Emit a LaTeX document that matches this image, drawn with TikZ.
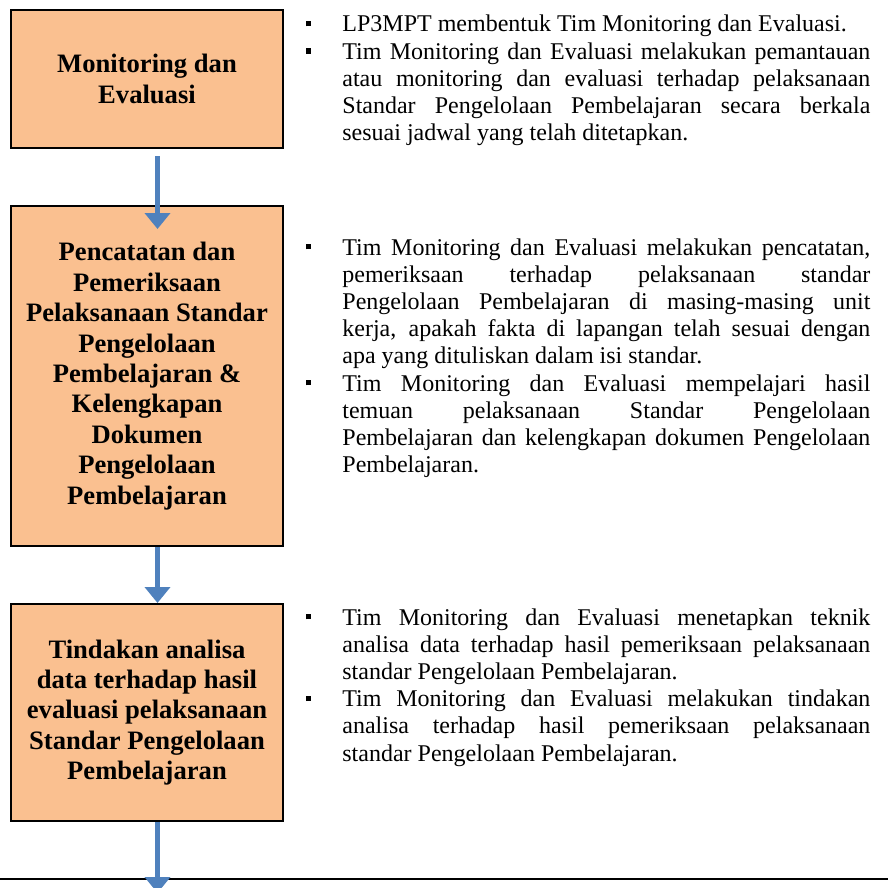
\documentclass[tikz,border=0pt]{standalone}
\usepackage{fontspec}
\setmainfont{Liberation Serif}
\usetikzlibrary{arrows.meta,calc}
\definecolor{boxfill}{HTML}{FAC090}
\definecolor{arrowblue}{HTML}{4F81BD}
\tolerance=10000\relax
\hbadness=10000\relax
\hyphenpenalty=10000\relax
\newcommand{\sqbul}{\noindent\llap{\rule[2.8pt]{2.7pt}{2.7pt}\hspace{15.7pt}}}

\begin{document}
\begin{tikzpicture}[x=0.5pt,y=-0.5pt,
    stagebox/.style={draw=black,line width=1pt,fill=boxfill,minimum width=136pt,inner sep=0pt,align=center,font=\fontsize{13.3}{15.2}\selectfont\bfseries},
    flowarrow/.style={draw=arrowblue,line width=2.5pt,-{Triangle[width=12.5pt,length=8pt]}},
    notes/.style={anchor=base west,inner sep=0pt,text width=264pt,align=justify,font=\fontsize{12}{13.6}\selectfont}]
    \useasboundingbox (0,0) rectangle (888,888);

    \node[stagebox,minimum height=69pt] (monev) at (147,79) {Monitoring dan\\Evaluasi};
    \node[stagebox,minimum height=170pt] (pencatatan) at (147,376) {Pencatatan dan\\Pemeriksaan\\Pelaksanaan Standar\\Pengelolaan\\Pembelajaran \&\\Kelengkapan\\Dokumen\\Pengelolaan\\Pembelajaran};
    \node[stagebox,minimum height=108.5pt] (tindakan) at (147,712.5) {Tindakan analisa\\data terhadap hasil\\evaluasi pelaksanaan\\Standar Pengelolaan\\Pembelajaran};

    \node[notes] (monevnote) at (342,32) {\sqbul LP3MPT membentuk Tim Monitoring dan Evaluasi.\par
        \sqbul Tim Monitoring dan Evaluasi melakukan pemantauan\linebreak atau monitoring dan evaluasi terhadap pelaksanaan\linebreak Standar Pengelolaan Pembelajaran secara berkala\linebreak sesuai jadwal yang telah ditetapkan.};
    \node[notes] (pencatatannote) at (342,255) {\sqbul Tim Monitoring dan Evaluasi melakukan pencatatan,\linebreak pemeriksaan terhadap pelaksanaan standar\linebreak Pengelolaan Pembelajaran di masing-masing unit\linebreak kerja, apakah fakta di lapangan telah sesuai dengan\linebreak apa yang dituliskan dalam isi standar.\par
        \sqbul Tim Monitoring dan Evaluasi mempelajari hasil\linebreak temuan pelaksanaan Standar Pengelolaan\linebreak Pembelajaran dan kelengkapan dokumen Pengelolaan\linebreak Pembelajaran.};
    \node[notes] (tindakannote) at (342,625) {\sqbul Tim Monitoring dan Evaluasi menetapkan teknik\linebreak analisa data terhadap hasil pemeriksaan pelaksanaan\linebreak standar Pengelolaan Pembelajaran.\par
        \sqbul Tim Monitoring dan Evaluasi melakukan tindakan\linebreak analisa terhadap hasil pemeriksaan pelaksanaan\linebreak standar Pengelolaan Pembelajaran.};

    \draw[line width=1.2pt] (0,879) -- (888,879);
    \coordinate (next) at (157.5,893);

    \draw[flowarrow] ($(monev.south)+(10.5,7)$) -- ($(pencatatan.north)+(10.5,24)$);
    \draw[flowarrow] ($(pencatatan.south)+(10.5,0)$) -- ($(tindakan.north)+(10.5,0)$);
    \draw[flowarrow] ($(tindakan.south)+(10.5,0)$) -- (next);
\end{tikzpicture}
\end{document}
